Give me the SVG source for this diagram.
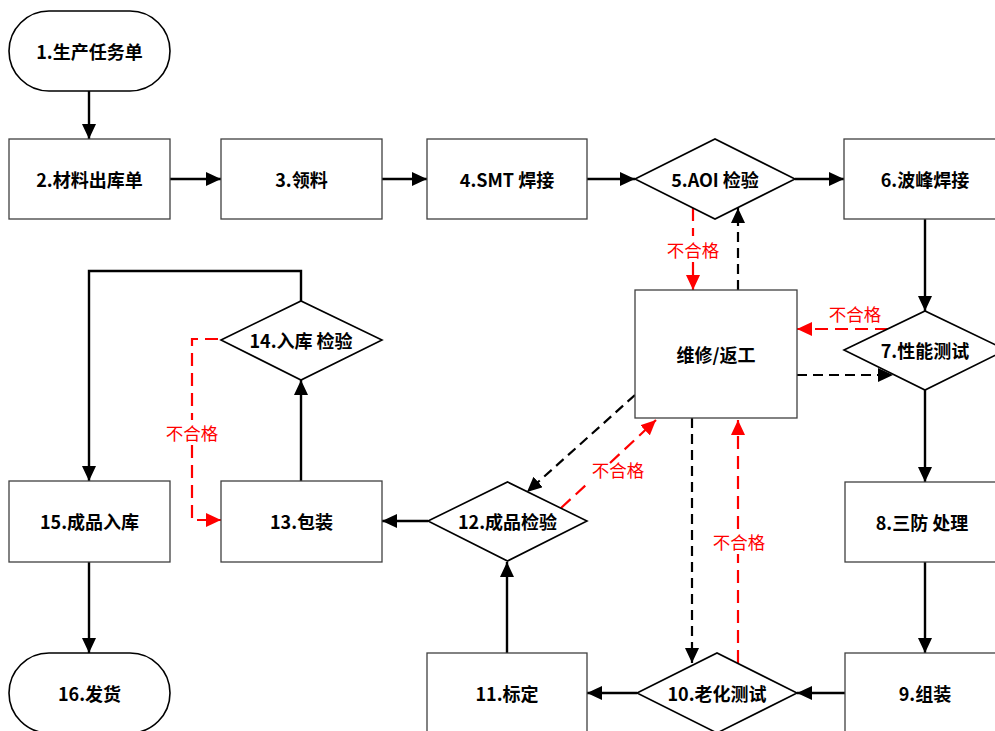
<svg xmlns="http://www.w3.org/2000/svg" width="995" height="731" viewBox="0 0 995 731">
<style>
.box{fill:#fff;stroke:#404040;stroke-width:1.3}
.dia{fill:#fff;stroke:#000;stroke-width:1.6}
.term{fill:#fff;stroke:#000;stroke-width:1.6}
.t{font-family:"Noto Sans CJK SC","Liberation Sans",sans-serif;font-size:18px;font-weight:bold;fill:#000;text-anchor:middle;dominant-baseline:central}
.r{font-family:"Noto Sans CJK SC","Liberation Sans",sans-serif;font-size:17.5px;fill:#f00;text-anchor:middle;dominant-baseline:central}
.e{fill:none;stroke:#000;stroke-width:2.4}
.ed{fill:none;stroke:#000;stroke-width:2.2;stroke-dasharray:10 6}
.er{fill:none;stroke:#f00;stroke-width:2.2;stroke-dasharray:13 7}
</style>
<defs>
<marker id="ab" markerUnits="userSpaceOnUse" markerWidth="15" markerHeight="14" refX="15" refY="7" orient="auto"><path d="M0,0 L15,7 L0,14 z" fill="#000"/></marker>
<marker id="ar" markerUnits="userSpaceOnUse" markerWidth="15" markerHeight="14" refX="15" refY="7" orient="auto"><path d="M0,0 L15,7 L0,14 z" fill="#f00"/></marker>
</defs>
<rect width="995" height="731" fill="#fff"/>
<g id="connectors">
<path class="e" d="M89,91 V139" marker-end="url(#ab)"/>
<path class="e" d="M170,179 H221" marker-end="url(#ab)"/>
<path class="e" d="M382,179 H427" marker-end="url(#ab)"/>
<path class="e" d="M587,179 H635" marker-end="url(#ab)"/>
<path class="e" d="M795,179 H844" marker-end="url(#ab)"/>
<path class="e" d="M925,219 V311" marker-end="url(#ab)"/>
<path class="e" d="M925,390 V482" marker-end="url(#ab)"/>
<path class="e" d="M925,562 V653" marker-end="url(#ab)"/>
<path class="e" d="M845,693 H797" marker-end="url(#ab)"/>
<path class="e" d="M637,693 H587" marker-end="url(#ab)"/>
<path class="e" d="M507,653 V562" marker-end="url(#ab)"/>
<path class="e" d="M428,521 H382" marker-end="url(#ab)"/>
<path class="e" d="M301,481 V380" marker-end="url(#ab)"/>
<path class="e" d="M301,301 V271 H89 V481" marker-end="url(#ab)"/>
<path class="e" d="M89,562 V653" marker-end="url(#ab)"/>
<path class="er" d="M693,208 V236 M693,262 V290" marker-end="url(#ar)"/>
<path class="ed" d="M738,290 V208" marker-end="url(#ab)"/>
<path class="er" d="M888,329 H797" marker-end="url(#ar)"/>
<path class="ed" d="M797,375 H893" marker-end="url(#ab)"/>
<path class="ed" d="M635,395 L527,492" marker-end="url(#ab)"/>
<path class="er" d="M561,508 L587,484 M610,463 L656,420" marker-end="url(#ar)"/>
<path class="ed" d="M692,418 V663" marker-end="url(#ab)"/>
<path class="er" d="M738,663 V554 M738,529 V420" marker-end="url(#ar)"/>
<path class="er" d="M218,339 H192 V420 M192,445 V520 H221" marker-end="url(#ar)"/>
<text class="r" x="693" y="249">不合格</text>
<text class="r" x="855" y="313">不合格</text>
<text class="r" x="618" y="469">不合格</text>
<text class="r" x="739" y="541">不合格</text>
<text class="r" x="192" y="432">不合格</text>
</g>
<g id="n1"><rect class="term" x="9" y="11" width="161" height="80" rx="40" ry="40"/><text class="t" x="89.5" y="51">1.生产任务单</text></g>
<g id="n2"><rect class="box" x="9" y="139" width="161" height="80"/><text class="t" x="89.5" y="179">2.材料出库单</text></g>
<g id="n3"><rect class="box" x="221" y="139" width="161" height="80"/><text class="t" x="301.5" y="179">3.领料</text></g>
<g id="n4"><rect class="box" x="427" y="139" width="160" height="80"/><text class="t" x="507" y="179">4.SMT 焊接</text></g>
<g id="n5"><polygon class="dia" points="635,179 715,139 795,179 715,219"/><text class="t" x="715" y="179">5.AOI 检验</text></g>
<g id="n6"><rect class="box" x="844" y="139" width="162" height="80"/><text class="t" x="925" y="179">6.波峰焊接</text></g>
<g id="n7"><polygon class="dia" points="844,350 925,311 1006,350 925,390"/><text class="t" x="925" y="350">7.性能测试</text></g>
<g id="nr"><rect class="box" x="635" y="290" width="162" height="128"/><text class="t" x="716" y="354">维修/返工</text></g>
<g id="n8"><rect class="box" x="845" y="482" width="161" height="80"/><text class="t" x="922" y="522">8.三防 处理</text></g>
<g id="n9"><rect class="box" x="845" y="653" width="161" height="80"/><text class="t" x="925" y="693">9.组装</text></g>
<g id="n10"><polygon class="dia" points="637,693 717,653 797,693 717,733"/><text class="t" x="717" y="693">10.老化测试</text></g>
<g id="n11"><rect class="box" x="427" y="653" width="160" height="80"/><text class="t" x="507" y="693">11.标定</text></g>
<g id="n12"><polygon class="dia" points="428,521 507.5,482 587,521 507.5,561"/><text class="t" x="507.5" y="521">12.成品检验</text></g>
<g id="n13"><rect class="box" x="221" y="481" width="161" height="81"/><text class="t" x="301.5" y="521">13.包装</text></g>
<g id="n14"><polygon class="dia" points="221,340 301,301 382,340 301,380"/><text class="t" x="301" y="340">14.入库 检验</text></g>
<g id="n15"><rect class="box" x="9" y="481" width="161" height="81"/><text class="t" x="89.5" y="521">15.成品入库</text></g>
<g id="n16"><rect class="term" x="9" y="653" width="161" height="80" rx="40" ry="40"/><text class="t" x="89.5" y="693">16.发货</text></g>
</svg>
